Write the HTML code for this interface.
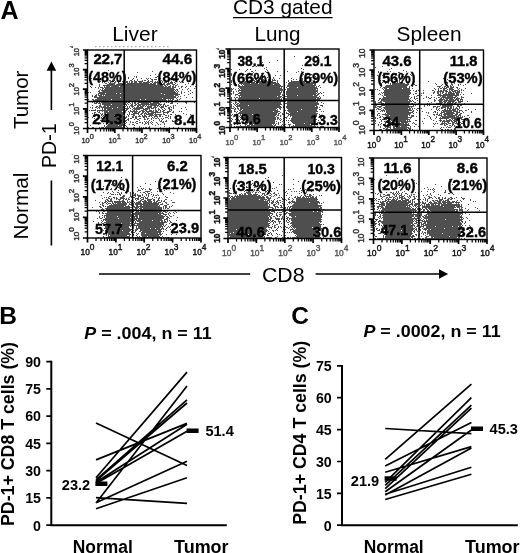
<!DOCTYPE html>
<html lang="en"><head><meta charset="utf-8"><title>Figure</title>
<style>html,body{margin:0;padding:0;background:#fff}svg{display:block;font-family:'Liberation Sans', Arial, Helvetica, sans-serif}</style></head><body>
<svg width="520" height="553" viewBox="0 0 520 553">
<rect width="520" height="553" fill="#fff"/>
<defs><filter id="sb" x="-2%" y="-2%" width="104%" height="104%"><feGaussianBlur stdDeviation="0.38"/></filter></defs>
<text x="0.6" y="18.7" font-size="25" font-weight="bold" text-anchor="start" fill="#000" >A</text>
<text x="-0.8" y="323.8" font-size="24.5" font-weight="bold" text-anchor="start" fill="#000" >B</text>
<text x="291.2" y="324" font-size="24.5" font-weight="bold" text-anchor="start" fill="#000" >C</text>
<text x="233" y="13.7" font-size="20.6" font-weight="normal" text-anchor="start" fill="#000" textLength="99.5" lengthAdjust="spacingAndGlyphs">CD3 gated</text>
<path d="M233 17.6H332.5" stroke="#000" stroke-width="1.4"/>
<text x="112.2" y="41.2" font-size="20.6" font-weight="normal" text-anchor="start" fill="#000" textLength="45.5" lengthAdjust="spacingAndGlyphs">Liver</text>
<text x="254.6" y="41.2" font-size="20.6" font-weight="normal" text-anchor="start" fill="#000" textLength="46" lengthAdjust="spacingAndGlyphs">Lung</text>
<text x="396.5" y="41.2" font-size="20.6" font-weight="normal" text-anchor="start" fill="#000" textLength="65" lengthAdjust="spacingAndGlyphs">Spleen</text>
<path d="M95 46.7H171" stroke="#999" stroke-width="1" stroke-dasharray="1.5 2.5"/>
<text transform="translate(27.6 129.1) rotate(-90)" font-size="20.6" textLength="58.5" lengthAdjust="spacingAndGlyphs">Tumor</text>
<text transform="translate(27.6 239.6) rotate(-90)" font-size="20.6" textLength="67" lengthAdjust="spacingAndGlyphs">Normal</text>
<text transform="translate(56 168) rotate(-90)" font-size="20.6" textLength="44.5" lengthAdjust="spacingAndGlyphs">PD-1</text>
<path d="M51.4 110V70M51.4 180.4V245.4" stroke="#000" stroke-width="1.6" fill="none"/>
<path d="M51.4 61.6L56.2 70.8H46.6Z" fill="#000"/>
<path d="M99 274H250.2M315.6 274H440" stroke="#000" stroke-width="1.6" fill="none"/>
<path d="M448.2 274L439 269.2V278.8Z" fill="#000"/>
<text x="262" y="281.6" font-size="20.6" font-weight="normal" text-anchor="start" fill="#000" textLength="42.5" lengthAdjust="spacingAndGlyphs">CD8</text>
<g clip-path="none">
<path transform="translate(0 .5)" d="M102 61h1M111 64h1M108 70h1M152 71h1M106 72h1M137 72h1M176 73h1M123 74h1M155 74h1M159 74h1M150 75h1M175 75h1M178 75h1M124 76h1M134 76h1M136 76h1M157 76h1M98 77h1M106 77h1M128 77h1M136 77h1M155 77h2M91 78h1M96 78h1M100 78h1M125 78h1M128 78h1M133 78h1M141 78h1M146 78h1M148 78h1M150 78h1M160 78h1M170 78h1M173 78h1M100 79h1M132 79h1M137 79h1M147 79h1M151 79h2M154 79h3M164 79h1M176 79h1M98 80h1M109 80h2M114 80h1M117 80h1M130 80h2M134 80h1M137 80h1M142 80h1M144 80h2M148 80h1M152 80h1M161 80h1M165 80h1M173 80h2M100 81h1M102 81h2M110 81h2M113 81h1M115 81h1M117 81h1M122 81h2M126 81h2M129 81h1M131 81h2M134 81h3M138 81h5M147 81h2M150 81h3M155 81h1M157 81h1M159 81h2M162 81h1M168 81h1M171 81h1M179 81h1M188 81h1M98 82h2M102 82h1M104 82h1M108 82h1M110 82h1M114 82h2M118 82h1M123 82h5M129 82h1M131 82h2M134 82h3M139 82h3M143 82h7M152 82h1M154 82h7M162 82h1M164 82h3M168 82h1M170 82h3M174 82h1M180 82h1M182 82h2M105 83h2M109 83h6M118 83h4M123 83h3M127 83h22M150 83h2M153 83h3M157 83h3M161 83h1M163 83h2M167 83h6M175 83h1M188 83h1M99 84h1M107 84h8M116 84h40M157 84h8M166 84h4M172 84h3M177 84h1M185 84h1M192 84h1M99 85h1M103 85h60M164 85h2M167 85h1M170 85h1M173 85h1M175 85h2M90 86h1M99 86h1M104 86h1M106 86h4M111 86h8M120 86h44M165 86h2M168 86h3M172 86h2M175 86h1M178 86h1M181 86h2M186 86h1M190 86h1M195 86h1M91 87h1M95 87h1M98 87h1M100 87h3M104 87h67M172 87h4M181 87h1M185 87h1M98 88h1M102 88h2M105 88h69M179 88h1M188 88h1M194 88h1M100 89h1M102 89h1M104 89h71M176 89h2M182 89h1M187 89h1M99 90h1M101 90h73M175 90h1M177 90h1M190 90h1M98 91h2M102 91h73M176 91h1M178 91h1M181 91h1M188 91h1M88 92h1M90 92h1M99 92h77M177 92h1M181 92h1M184 92h1M192 92h1M98 93h7M106 93h10M117 93h3M121 93h40M162 93h16M181 93h1M190 93h1M96 94h1M98 94h1M100 94h64M165 94h15M188 94h1M92 95h1M95 95h2M98 95h4M103 95h1M105 95h69M175 95h3M184 95h1M92 96h1M94 96h3M99 96h77M178 96h1M180 96h1M94 97h26M121 97h55M177 97h1M186 97h1M192 97h1M97 98h65M163 98h11M176 98h1M180 98h1M88 99h1M92 99h2M95 99h16M112 99h28M141 99h4M146 99h20M168 99h1M170 99h1M172 99h2M177 99h1M179 99h1M93 100h74M168 100h5M175 100h3M96 101h3M100 101h7M108 101h17M126 101h3M130 101h7M139 101h15M155 101h6M162 101h1M165 101h2M168 101h2M179 101h1M192 101h1M92 102h1M94 102h1M96 102h2M99 102h1M101 102h26M128 102h2M132 102h1M134 102h2M138 102h13M153 102h6M160 102h1M166 102h1M168 102h1M171 102h2M185 102h2M194 102h1M94 103h3M98 103h3M102 103h22M125 103h1M127 103h1M130 103h1M132 103h1M134 103h2M137 103h2M141 103h8M150 103h10M164 103h1M170 103h3M177 103h1M186 103h1M100 104h1M102 104h9M112 104h15M128 104h1M131 104h2M135 104h2M138 104h19M158 104h4M163 104h2M92 105h1M99 105h2M104 105h19M124 105h1M126 105h1M130 105h3M134 105h2M137 105h4M142 105h3M146 105h1M148 105h1M150 105h9M160 105h1M163 105h1M165 105h1M167 105h2M173 105h1M175 105h1M96 106h2M99 106h3M103 106h3M107 106h2M110 106h16M127 106h1M129 106h1M131 106h3M137 106h2M140 106h4M145 106h1M147 106h5M154 106h2M157 106h1M159 106h1M161 106h3M165 106h2M170 106h1M173 106h1M90 107h1M92 107h1M95 107h2M98 107h2M101 107h16M118 107h7M127 107h1M129 107h1M132 107h1M134 107h1M136 107h7M147 107h5M153 107h4M160 107h4M168 107h2M171 107h1M173 107h1M185 107h1M92 108h1M97 108h1M99 108h1M102 108h1M104 108h8M113 108h16M130 108h1M133 108h11M145 108h5M151 108h3M155 108h1M158 108h1M161 108h1M164 108h1M168 108h2M173 108h1M181 108h1M95 109h1M102 109h1M104 109h2M107 109h18M126 109h2M132 109h1M134 109h6M143 109h5M149 109h1M155 109h1M158 109h2M162 109h1M165 109h1M169 109h3M186 109h1M89 110h1M91 110h5M97 110h30M130 110h1M133 110h2M136 110h1M141 110h3M145 110h2M149 110h3M153 110h1M155 110h2M158 110h1M160 110h1M163 110h2M169 110h1M171 110h1M97 111h1M99 111h1M102 111h1M104 111h4M109 111h13M123 111h3M128 111h1M130 111h8M139 111h2M142 111h3M146 111h8M155 111h3M160 111h1M162 111h2M167 111h4M173 111h1M179 111h1M181 111h1M94 112h2M98 112h2M104 112h22M129 112h1M132 112h1M134 112h3M138 112h2M142 112h2M145 112h1M147 112h2M151 112h10M163 112h6M172 112h2M92 113h1M94 113h1M100 113h1M102 113h1M104 113h2M107 113h17M129 113h1M133 113h6M141 113h2M144 113h3M148 113h6M155 113h1M163 113h1M167 113h1M183 113h1M101 114h2M104 114h21M127 114h1M129 114h1M131 114h4M138 114h1M140 114h2M144 114h1M146 114h7M154 114h8M163 114h2M170 114h2M175 114h1M186 114h1M190 114h1M93 115h1M99 115h1M101 115h1M103 115h1M105 115h9M115 115h8M128 115h1M133 115h2M139 115h1M142 115h1M144 115h2M149 115h5M155 115h2M159 115h2M165 115h2M168 115h1M99 116h1M102 116h1M105 116h20M126 116h1M128 116h1M132 116h2M135 116h2M138 116h3M142 116h5M148 116h2M151 116h1M154 116h4M159 116h2M162 116h1M168 116h1M170 116h1M88 117h1M92 117h1M101 117h1M103 117h24M132 117h2M135 117h2M143 117h2M146 117h1M152 117h1M154 117h1M157 117h1M165 117h3M170 117h1M175 117h2M94 118h1M101 118h25M128 118h1M130 118h2M135 118h2M139 118h2M144 118h1M147 118h2M151 118h1M153 118h1M155 118h2M158 118h1M161 118h1M163 118h1M168 118h1M170 118h1M104 119h13M118 119h7M127 119h2M134 119h1M137 119h2M144 119h2M147 119h1M151 119h1M159 119h1M162 119h1M177 119h1M94 120h2M100 120h1M104 120h1M106 120h21M128 120h1M139 120h1M149 120h1M153 120h1M159 120h1M161 120h1M166 120h1M172 120h1M180 120h1M103 121h1M106 121h18M125 121h1M130 121h1M136 121h2M144 121h1M146 121h1M148 121h1M151 121h1M160 121h2M163 121h1M165 121h2M172 121h2M177 121h1M189 121h1M106 122h19M126 122h1M130 122h1M132 122h2M135 122h1M139 122h2M142 122h1M145 122h1M147 122h2M150 122h1M152 122h1M156 122h1M162 122h2M179 122h1M94 123h1M96 123h1M100 123h1M103 123h1M109 123h14M125 123h1M136 123h2M142 123h1M145 123h2M148 123h1M151 123h1M157 123h1M164 123h1M179 123h1M98 124h1M106 124h1M108 124h17M129 124h1M132 124h2M144 124h1M148 124h1M152 124h1M158 124h1M160 124h1M164 124h1M90 125h1M104 125h1M107 125h11M119 125h7M134 125h1M155 125h1M104 126h1M106 126h16M123 126h1M126 126h1M139 126h1M149 126h1M164 126h1M88 127h1M92 127h2M99 127h1M101 127h3M105 127h20M127 127h1M133 127h2M139 127h1M141 127h1M143 127h1M145 127h2M148 127h2M160 127h1M169 127h1M173 127h1M178 127h1" stroke="#4f4f4f" stroke-width="1" fill="none" filter="url(#sb)"/>
<rect x="87.5" y="50" width="109.0" height="78.5" fill="none" stroke="#000" stroke-width="1.4"/>
<path d="M124.2 50V128.5M87.5 101.6H196.5" stroke="#000" stroke-width="1.5" fill="none"/>
<path d="M95.7 128.5v2.9M87.5 122.6h-2.9M100.5 128.5v2.9M87.5 119.1h-2.9M103.9 128.5v2.9M87.5 116.7h-2.9M106.5 128.5v2.9M87.5 114.8h-2.9M108.7 128.5v2.9M87.5 113.2h-2.9M110.5 128.5v2.9M87.5 111.9h-2.9M112.1 128.5v2.9M87.5 110.8h-2.9M113.5 128.5v2.9M87.5 109.8h-2.9M123.0 128.5v2.9M87.5 103.0h-2.9M127.8 128.5v2.9M87.5 99.5h-2.9M131.2 128.5v2.9M87.5 97.1h-2.9M133.8 128.5v2.9M87.5 95.2h-2.9M136.0 128.5v2.9M87.5 93.6h-2.9M137.8 128.5v2.9M87.5 92.3h-2.9M139.4 128.5v2.9M87.5 91.2h-2.9M140.8 128.5v2.9M87.5 90.1h-2.9M150.2 128.5v2.9M87.5 83.3h-2.9M155.0 128.5v2.9M87.5 79.9h-2.9M158.4 128.5v2.9M87.5 77.4h-2.9M161.0 128.5v2.9M87.5 75.5h-2.9M163.2 128.5v2.9M87.5 74.0h-2.9M165.0 128.5v2.9M87.5 72.7h-2.9M166.6 128.5v2.9M87.5 71.5h-2.9M168.0 128.5v2.9M87.5 70.5h-2.9M177.5 128.5v2.9M87.5 63.7h-2.9M182.3 128.5v2.9M87.5 60.3h-2.9M185.7 128.5v2.9M87.5 57.8h-2.9M188.3 128.5v2.9M87.5 55.9h-2.9M190.5 128.5v2.9M87.5 54.4h-2.9M192.3 128.5v2.9M87.5 53.0h-2.9M193.9 128.5v2.9M87.5 51.9h-2.9M195.3 128.5v2.9M87.5 50.9h-2.9" stroke="#000" stroke-width="1.25" fill="none"/>
<path d="M87.5 128.5v4.6M87.5 128.5h-4.6M114.8 128.5v4.6M87.5 108.9h-4.6M142.0 128.5v4.6M87.5 89.2h-4.6M169.2 128.5v4.6M87.5 69.6h-4.6M196.5 128.5v4.6M87.5 50h-4.6" stroke="#000" stroke-width="1.7" fill="none"/>
<g font-size="7.4" font-weight="normal" fill="#383838" stroke="#383838" stroke-width="0.4">
<text x="81.4" y="142.5">10<tspan dy="-4">0</tspan></text>
<text x="108.4" y="142.5">10<tspan dy="-4">1</tspan></text>
<text x="135.3" y="142.5">10<tspan dy="-4">2</tspan></text>
<text x="162.2" y="142.5">10<tspan dy="-4">3</tspan></text>
<text x="189.1" y="142.5">10<tspan dy="-4">4</tspan></text>
</g>
<clipPath id="yc11"><rect x="0" y="46.2" width="520" height="200"/></clipPath>
<g font-size="7.5" font-weight="normal" fill="#383838" stroke="#383838" stroke-width="0.45" clip-path="url(#yc11)">
<text transform="translate(79 134.7) rotate(-90)">10<tspan dy="-5">0</tspan></text>
<text transform="translate(79 115.1) rotate(-90)">10<tspan dy="-5">1</tspan></text>
<text transform="translate(79 95.5) rotate(-90)">10<tspan dy="-5">2</tspan></text>
<text transform="translate(79 75.9) rotate(-90)">10<tspan dy="-5">3</tspan></text>
<text transform="translate(79 56.3) rotate(-90)">10<tspan dy="-5">4</tspan></text>
</g>
<text x="93.4" y="64.3" font-size="14" font-weight="bold" stroke="#000" stroke-width=".35" textLength="29.0" lengthAdjust="spacingAndGlyphs">22.7</text>
<text x="88.2" y="82.2" font-size="14" font-weight="bold" stroke="#000" stroke-width=".35" textLength="38.3" lengthAdjust="spacingAndGlyphs">(48%)</text>
<text x="162.5" y="64.4" font-size="14" font-weight="bold" stroke="#000" stroke-width=".35" textLength="29.9" lengthAdjust="spacingAndGlyphs">44.6</text>
<text x="157.6" y="82.2" font-size="14" font-weight="bold" stroke="#000" stroke-width=".35" textLength="38.9" lengthAdjust="spacingAndGlyphs">(84%)</text>
<text x="92.3" y="124.4" font-size="14" font-weight="bold" stroke="#000" stroke-width=".35" textLength="30.1" lengthAdjust="spacingAndGlyphs">24.3</text>
<text x="174.1" y="125.2" font-size="14" font-weight="bold" stroke="#000" stroke-width=".35" textLength="21.0" lengthAdjust="spacingAndGlyphs">8.4</text>
</g>
<g clip-path="none">
<path transform="translate(0 .5)" d="M318 55h1M294 56h1M277 60h1M262 62h1M269 62h1M261 63h1M242 64h1M250 64h1M243 65h1M302 65h1M252 66h2M256 66h1M262 66h1M266 67h1M264 68h1M301 68h1M231 69h1M239 69h1M247 69h1M250 69h1M266 69h1M303 69h1M246 70h1M255 70h1M267 70h1M245 71h1M251 71h2M265 71h1M277 71h1M287 71h1M298 71h1M301 71h1M236 72h1M253 72h1M266 72h1M296 72h1M231 73h1M252 73h1M261 73h2M305 73h1M231 74h1M245 74h1M249 74h2M262 74h1M303 74h1M309 74h1M311 74h1M231 75h1M242 75h1M246 75h1M255 75h1M261 75h2M264 75h1M268 75h1M275 75h1M280 75h1M246 76h1M262 76h2M315 76h1M243 77h1M246 77h1M255 77h1M258 77h1M267 77h1M273 77h1M311 77h1M253 78h1M257 78h1M260 78h1M265 78h1M273 78h1M279 78h1M291 78h1M302 78h1M306 78h2M310 78h1M243 79h1M251 79h1M253 79h1M255 79h2M260 79h2M263 79h1M268 79h2M272 79h1M274 79h1M293 79h1M296 79h1M302 79h1M310 79h1M315 79h2M231 80h1M246 80h2M249 80h6M256 80h4M261 80h6M268 80h3M272 80h4M277 80h1M284 80h1M288 80h1M291 80h1M299 80h2M302 80h1M304 80h1M231 81h1M238 81h1M242 81h1M245 81h7M254 81h19M277 81h1M284 81h1M288 81h1M291 81h10M302 81h6M309 81h2M316 81h1M231 82h1M244 82h11M256 82h20M277 82h1M286 82h1M289 82h16M306 82h4M311 82h3M235 83h1M239 83h11M251 83h7M259 83h20M288 83h28M231 84h1M235 84h2M238 84h1M241 84h1M243 84h30M274 84h6M284 84h1M288 84h25M314 84h2M236 85h1M238 85h2M242 85h1M244 85h37M284 85h1M287 85h14M302 85h14M319 85h1M238 86h45M287 86h28M316 86h1M318 86h1M239 87h41M281 87h1M286 87h1M289 87h8M298 87h19M320 87h1M231 88h1M233 88h1M238 88h1M240 88h42M287 88h31M231 89h2M235 89h1M239 89h1M241 89h42M285 89h1M287 89h29M317 89h1M231 90h1M238 90h45M284 90h1M287 90h31M231 91h1M233 91h1M236 91h1M238 91h1M241 91h39M281 91h1M283 91h1M286 91h32M233 92h1M239 92h43M283 92h1M286 92h30M317 92h1M320 92h1M323 92h1M231 93h1M233 93h1M238 93h43M286 93h31M318 93h2M321 93h1M231 94h1M235 94h3M240 94h41M282 94h1M284 94h1M286 94h30M317 94h2M235 95h1M238 95h42M282 95h2M287 95h10M298 95h15M314 95h4M323 95h1M239 96h1M241 96h36M278 96h4M284 96h33M319 96h1M231 97h1M234 97h1M236 97h2M239 97h42M282 97h3M287 97h32M320 97h1M231 98h1M235 98h1M238 98h21M260 98h20M281 98h1M283 98h33M317 98h4M231 99h1M235 99h1M238 99h44M283 99h1M285 99h35M231 100h1M237 100h45M285 100h32M319 100h2M235 101h1M238 101h48M287 101h29M317 101h1M231 102h1M235 102h2M239 102h42M284 102h1M287 102h31M321 102h1M233 103h1M235 103h1M237 103h2M240 103h41M285 103h34M323 103h1M231 104h1M234 104h1M236 104h2M239 104h43M287 104h32M231 105h1M235 105h1M237 105h11M249 105h31M287 105h30M320 105h3M231 106h1M233 106h1M236 106h45M283 106h1M286 106h29M316 106h2M322 106h1M231 107h1M234 107h1M237 107h1M240 107h42M283 107h1M286 107h32M319 107h1M231 108h3M235 108h1M237 108h2M240 108h37M279 108h2M287 108h31M234 109h2M238 109h1M240 109h2M243 109h33M277 109h1M280 109h1M288 109h13M302 109h15M319 109h2M231 110h1M234 110h1M239 110h2M242 110h36M285 110h1M287 110h30M231 111h1M234 111h2M237 111h1M240 111h33M274 111h6M288 111h9M298 111h20M321 111h1M323 111h1M231 112h1M236 112h1M239 112h39M280 112h1M286 112h1M289 112h27M238 113h39M278 113h2M282 113h1M284 113h1M286 113h3M290 113h28M232 114h1M234 114h1M236 114h2M240 114h1M242 114h10M253 114h24M278 114h1M282 114h3M288 114h29M319 114h1M231 115h1M237 115h1M240 115h1M242 115h34M277 115h2M280 115h1M284 115h1M288 115h1M290 115h25M316 115h1M237 116h1M239 116h1M241 116h1M244 116h31M276 116h1M280 116h1M287 116h1M290 116h1M292 116h22M315 116h2M319 116h1M323 116h1M240 117h1M242 117h34M277 117h2M285 117h2M292 117h24M321 117h1M231 118h1M237 118h1M241 118h35M277 118h2M280 118h1M283 118h1M286 118h1M289 118h1M291 118h23M320 118h1M232 119h1M235 119h1M238 119h1M240 119h1M242 119h2M245 119h31M277 119h1M279 119h1M281 119h1M291 119h23M316 119h1M231 120h1M238 120h2M243 120h1M246 120h29M280 120h1M283 120h1M286 120h1M288 120h1M290 120h25M318 120h1M231 121h1M236 121h2M239 121h1M245 121h2M248 121h27M276 121h1M282 121h1M291 121h24M243 122h1M245 122h30M278 122h1M280 122h1M284 122h1M288 122h1M292 122h22M317 122h1M235 123h1M240 123h1M242 123h2M247 123h1M249 123h26M276 123h1M278 123h1M293 123h11M305 123h9M316 123h2M231 124h1M234 124h1M237 124h1M245 124h2M249 124h4M254 124h18M273 124h1M275 124h1M278 124h1M282 124h1M284 124h2M288 124h3M295 124h15M311 124h3M315 124h1M321 124h1M231 125h1M240 125h1M245 125h1M247 125h3M251 125h22M274 125h2M281 125h1M283 125h1M289 125h1M293 125h1M295 125h17M314 125h1M231 126h1M234 126h1M236 126h39M276 126h7M284 126h2M289 126h1M291 126h25M317 126h1M320 126h4" stroke="#4f4f4f" stroke-width="1" fill="none" filter="url(#sb)"/>
<rect x="230" y="49" width="109" height="78.5" fill="none" stroke="#000" stroke-width="1.4"/>
<path d="M284.2 49V127.5M230 100.5H339" stroke="#000" stroke-width="1.5" fill="none"/>
<path d="M238.2 127.5v2.9M230 121.6h-2.9M243.0 127.5v2.9M230 118.1h-2.9M246.4 127.5v2.9M230 115.7h-2.9M249.0 127.5v2.9M230 113.8h-2.9M251.2 127.5v2.9M230 112.2h-2.9M253.0 127.5v2.9M230 110.9h-2.9M254.6 127.5v2.9M230 109.8h-2.9M256.0 127.5v2.9M230 108.8h-2.9M265.5 127.5v2.9M230 102.0h-2.9M270.3 127.5v2.9M230 98.5h-2.9M273.7 127.5v2.9M230 96.1h-2.9M276.3 127.5v2.9M230 94.2h-2.9M278.5 127.5v2.9M230 92.6h-2.9M280.3 127.5v2.9M230 91.3h-2.9M281.9 127.5v2.9M230 90.2h-2.9M283.3 127.5v2.9M230 89.1h-2.9M292.7 127.5v2.9M230 82.3h-2.9M297.5 127.5v2.9M230 78.9h-2.9M300.9 127.5v2.9M230 76.4h-2.9M303.5 127.5v2.9M230 74.5h-2.9M305.7 127.5v2.9M230 73.0h-2.9M307.5 127.5v2.9M230 71.7h-2.9M309.1 127.5v2.9M230 70.5h-2.9M310.5 127.5v2.9M230 69.5h-2.9M320.0 127.5v2.9M230 62.7h-2.9M324.8 127.5v2.9M230 59.3h-2.9M328.2 127.5v2.9M230 56.8h-2.9M330.8 127.5v2.9M230 54.9h-2.9M333.0 127.5v2.9M230 53.4h-2.9M334.8 127.5v2.9M230 52.0h-2.9M336.4 127.5v2.9M230 50.9h-2.9M337.8 127.5v2.9M230 49.9h-2.9" stroke="#000" stroke-width="1.25" fill="none"/>
<path d="M230.0 127.5v4.6M230 127.5h-4.6M257.2 127.5v4.6M230 107.9h-4.6M284.5 127.5v4.6M230 88.2h-4.6M311.8 127.5v4.6M230 68.6h-4.6M339 127.5v4.6M230 49h-4.6" stroke="#000" stroke-width="1.7" fill="none"/>
<g font-size="7.6" font-weight="normal" fill="#555" stroke="#555" stroke-width="0.4">
<text x="225.5" y="144.5">10<tspan dy="-5">0</tspan></text>
<text x="252.6" y="144.5">10<tspan dy="-5">1</tspan></text>
<text x="279.7" y="144.5">10<tspan dy="-5">2</tspan></text>
<text x="306.7" y="144.5">10<tspan dy="-5">3</tspan></text>
<text x="333.8" y="144.5">10<tspan dy="-5">4</tspan></text>
</g>
<clipPath id="yc22"><rect x="0" y="48.5" width="520" height="200"/></clipPath>
<g font-size="8.4" font-weight="bold" fill="#111" stroke="#111" stroke-width="0.45" clip-path="url(#yc22)">
<text transform="translate(224.5 134.8) rotate(-90)">10<tspan dy="-5">0</tspan></text>
<text transform="translate(224.5 115.8) rotate(-90)">10<tspan dy="-5">1</tspan></text>
<text transform="translate(224.5 96.8) rotate(-90)">10<tspan dy="-5">2</tspan></text>
<text transform="translate(224.5 77.8) rotate(-90)">10<tspan dy="-5">3</tspan></text>
<text transform="translate(224.5 58.8) rotate(-90)">10<tspan dy="-5">4</tspan></text>
</g>
<text x="237.4" y="65.5" font-size="14" font-weight="bold" stroke="#000" stroke-width=".35" textLength="26.7" lengthAdjust="spacingAndGlyphs">38.1</text>
<text x="232.0" y="83" font-size="14" font-weight="bold" stroke="#000" stroke-width=".35" textLength="39.6" lengthAdjust="spacingAndGlyphs">(66%)</text>
<text x="304.3" y="65.5" font-size="14" font-weight="bold" stroke="#000" stroke-width=".35" textLength="27.2" lengthAdjust="spacingAndGlyphs">29.1</text>
<text x="298.9" y="83" font-size="14" font-weight="bold" stroke="#000" stroke-width=".35" textLength="39.3" lengthAdjust="spacingAndGlyphs">(69%)</text>
<text x="232.7" y="124.3" font-size="14" font-weight="bold" stroke="#000" stroke-width=".35" textLength="28.1" lengthAdjust="spacingAndGlyphs">19.6</text>
<text x="310.5" y="125.3" font-size="14" font-weight="bold" stroke="#000" stroke-width=".35" textLength="27.3" lengthAdjust="spacingAndGlyphs">13.3</text>
</g>
<g clip-path="none">
<path transform="translate(0 .5)" d="M388 61h1M405 63h1M382 66h1M375 67h1M391 68h1M389 69h1M403 70h1M378 71h1M387 71h1M390 71h1M406 71h1M378 72h1M398 72h2M380 73h1M396 73h1M387 74h1M403 74h1M410 74h1M413 74h1M377 75h1M382 75h1M392 75h1M411 75h1M387 76h1M401 76h1M403 76h1M391 77h1M394 77h2M459 77h1M391 78h1M443 78h1M391 79h1M394 79h2M399 79h2M409 79h1M447 79h1M380 80h1M388 80h1M390 80h1M397 80h1M399 80h1M406 80h1M455 80h1M386 81h1M391 81h1M394 81h2M397 81h1M399 81h1M409 81h1M414 81h1M428 81h1M453 81h1M382 82h1M385 82h1M388 82h1M392 82h3M397 82h1M399 82h2M402 82h1M444 82h4M452 82h1M454 82h1M381 83h1M385 83h1M388 83h1M390 83h1M392 83h13M407 83h2M435 83h1M447 83h1M451 83h1M454 83h1M380 84h2M390 84h1M392 84h17M414 84h1M436 84h1M442 84h1M446 84h1M451 84h2M458 84h1M460 84h1M465 84h1M386 85h22M415 85h2M441 85h1M446 85h1M450 85h1M452 85h1M458 85h1M463 85h1M381 86h1M385 86h22M409 86h1M412 86h1M437 86h4M444 86h2M447 86h2M450 86h2M453 86h1M380 87h1M383 87h24M409 87h1M439 87h1M442 87h1M444 87h1M446 87h3M450 87h4M456 87h2M382 88h1M384 88h3M389 88h13M403 88h7M412 88h1M434 88h1M438 88h1M440 88h2M443 88h4M449 88h4M457 88h1M459 88h1M465 88h1M375 89h1M377 89h1M383 89h1M385 89h25M435 89h1M438 89h1M443 89h2M447 89h1M449 89h5M458 89h1M461 89h1M379 90h1M384 90h27M413 90h1M416 90h1M418 90h1M423 90h1M432 90h2M438 90h1M440 90h2M443 90h4M449 90h1M451 90h2M454 90h4M459 90h1M461 90h1M463 90h1M384 91h26M415 91h2M434 91h1M437 91h7M445 91h3M449 91h2M452 91h4M457 91h3M381 92h1M383 92h28M423 92h1M433 92h2M437 92h2M440 92h1M442 92h2M446 92h1M448 92h4M453 92h1M455 92h5M461 92h1M379 93h1M382 93h1M384 93h27M415 93h2M421 93h1M423 93h1M433 93h1M437 93h2M440 93h1M442 93h1M445 93h2M448 93h7M456 93h3M471 93h1M378 94h1M380 94h1M384 94h26M413 94h1M438 94h3M443 94h12M456 94h3M460 94h1M463 94h1M382 95h1M384 95h25M417 95h2M421 95h1M431 95h1M437 95h22M383 96h1M386 96h24M414 96h1M416 96h1M426 96h1M440 96h1M442 96h4M447 96h6M455 96h2M461 96h1M383 97h26M411 97h1M414 97h1M426 97h1M428 97h1M431 97h1M434 97h1M438 97h2M441 97h15M457 97h1M461 97h3M379 98h2M382 98h27M410 98h1M414 98h1M416 98h2M423 98h1M429 98h2M436 98h1M440 98h2M443 98h1M445 98h8M454 98h1M456 98h4M461 98h1M379 99h1M381 99h29M415 99h1M434 99h1M439 99h6M446 99h2M449 99h5M455 99h4M460 99h3M378 100h1M381 100h27M409 100h2M412 100h1M417 100h1M419 100h1M434 100h2M438 100h5M444 100h12M457 100h2M460 100h1M462 100h1M375 101h1M380 101h2M383 101h29M413 101h1M428 101h1M434 101h1M439 101h3M443 101h4M448 101h7M458 101h5M467 101h1M375 102h1M378 102h4M385 102h25M414 102h2M431 102h1M439 102h4M444 102h2M447 102h4M452 102h2M455 102h2M458 102h3M375 103h1M381 103h3M385 103h25M411 103h2M418 103h1M427 103h1M429 103h1M436 103h6M444 103h1M447 103h6M454 103h2M464 103h1M375 104h1M377 104h1M383 104h28M414 104h1M429 104h1M439 104h1M441 104h6M448 104h3M452 104h1M457 104h1M460 104h1M463 104h1M375 105h2M381 105h28M413 105h1M415 105h1M424 105h1M427 105h1M429 105h1M440 105h1M442 105h11M457 105h2M460 105h2M375 106h1M377 106h5M385 106h29M424 106h1M433 106h3M437 106h3M442 106h10M453 106h1M457 106h3M375 107h2M379 107h2M383 107h27M411 107h1M433 107h1M436 107h2M441 107h5M447 107h2M450 107h2M453 107h1M456 107h1M459 107h1M462 107h1M377 108h2M381 108h1M384 108h24M409 108h2M412 108h1M414 108h1M417 108h2M421 108h1M436 108h1M439 108h1M441 108h2M445 108h1M447 108h5M453 108h1M455 108h3M459 108h1M376 109h1M378 109h3M383 109h1M385 109h26M412 109h1M416 109h1M419 109h1M431 109h1M436 109h1M438 109h1M444 109h2M447 109h1M449 109h2M452 109h4M457 109h2M468 109h1M475 109h1M381 110h4M386 110h26M413 110h1M417 110h1M437 110h1M439 110h1M442 110h14M457 110h1M459 110h3M465 110h2M377 111h1M380 111h1M382 111h1M384 111h1M386 111h23M412 111h2M422 111h1M434 111h2M441 111h1M443 111h9M453 111h5M459 111h1M462 111h1M471 111h1M386 112h27M416 112h1M426 112h1M428 112h1M433 112h1M435 112h1M437 112h1M441 112h4M446 112h8M456 112h4M463 112h1M471 112h1M378 113h2M385 113h1M387 113h24M413 113h1M428 113h1M437 113h1M440 113h2M444 113h11M456 113h2M460 113h2M377 114h1M382 114h28M433 114h2M436 114h2M439 114h1M441 114h1M443 114h10M455 114h3M459 114h2M377 115h1M379 115h1M385 115h4M390 115h18M409 115h1M411 115h3M427 115h1M434 115h1M438 115h4M444 115h2M447 115h10M458 115h3M467 115h2M380 116h1M382 116h1M386 116h22M411 116h3M416 116h1M429 116h1M436 116h1M441 116h14M456 116h3M460 116h1M462 116h1M464 116h1M375 117h1M379 117h2M383 117h1M385 117h27M419 117h1M430 117h1M436 117h1M440 117h1M442 117h21M469 117h1M375 118h1M377 118h1M384 118h1M388 118h20M410 118h1M424 118h1M430 118h1M435 118h1M439 118h10M451 118h11M380 119h1M382 119h1M386 119h1M389 119h21M431 119h1M440 119h1M446 119h1M449 119h2M452 119h1M454 119h2M457 119h1M461 119h3M467 119h1M375 120h1M381 120h1M387 120h2M391 120h15M407 120h1M409 120h1M415 120h2M433 120h1M439 120h3M443 120h2M446 120h6M453 120h2M457 120h2M466 120h1M375 121h1M381 121h1M384 121h1M386 121h5M392 121h19M422 121h1M436 121h1M440 121h1M442 121h8M451 121h2M454 121h3M462 121h1M379 122h1M385 122h1M387 122h1M389 122h6M396 122h4M401 122h7M413 122h1M442 122h1M444 122h1M447 122h2M452 122h3M456 122h1M460 122h1M375 123h1M381 123h1M385 123h1M388 123h4M393 123h11M405 123h2M408 123h1M412 123h1M414 123h1M423 123h1M433 123h1M435 123h1M437 123h1M441 123h6M448 123h3M452 123h2M455 123h3M459 123h1M461 123h2M378 124h1M380 124h1M383 124h1M387 124h5M393 124h16M415 124h2M434 124h1M440 124h3M444 124h1M446 124h2M452 124h2M457 124h1M460 124h1M378 125h1M387 125h4M392 125h18M444 125h2M449 125h2M452 125h1M454 125h1M458 125h1M460 125h1M380 126h1M387 126h1M390 126h1M393 126h3M397 126h3M401 126h6M410 126h1M414 126h1M418 126h1M433 126h1M447 126h1M451 126h1M454 126h1M456 126h2M380 127h1M385 127h1M387 127h4M393 127h2M396 127h13M410 127h1M441 127h1M443 127h1M446 127h1M448 127h3M455 127h3M461 127h1M383 128h2M386 128h2M390 128h1M393 128h14M408 128h3M440 128h1M454 128h2M379 129h3M385 129h23M409 129h2M412 129h1M441 129h2M445 129h1M447 129h2M451 129h1M454 129h2" stroke="#4f4f4f" stroke-width="1" fill="none" filter="url(#sb)"/>
<rect x="374" y="50" width="109.5" height="80.5" fill="none" stroke="#000" stroke-width="1.4"/>
<path d="M419.7 50V130.5M374 104.2H483.5" stroke="#000" stroke-width="1.5" fill="none"/>
<path d="M382.2 130.5v2.9M374 124.4h-2.9M387.1 130.5v2.9M374 120.9h-2.9M390.5 130.5v2.9M374 118.4h-2.9M393.1 130.5v2.9M374 116.4h-2.9M395.3 130.5v2.9M374 114.8h-2.9M397.1 130.5v2.9M374 113.5h-2.9M398.7 130.5v2.9M374 112.3h-2.9M400.1 130.5v2.9M374 111.3h-2.9M409.6 130.5v2.9M374 104.3h-2.9M414.4 130.5v2.9M374 100.8h-2.9M417.9 130.5v2.9M374 98.3h-2.9M420.5 130.5v2.9M374 96.3h-2.9M422.7 130.5v2.9M374 94.7h-2.9M424.5 130.5v2.9M374 93.4h-2.9M426.1 130.5v2.9M374 92.2h-2.9M427.5 130.5v2.9M374 91.2h-2.9M437.0 130.5v2.9M374 84.2h-2.9M441.8 130.5v2.9M374 80.6h-2.9M445.2 130.5v2.9M374 78.1h-2.9M447.9 130.5v2.9M374 76.2h-2.9M450.1 130.5v2.9M374 74.6h-2.9M451.9 130.5v2.9M374 73.2h-2.9M453.5 130.5v2.9M374 72.1h-2.9M454.9 130.5v2.9M374 71.0h-2.9M464.4 130.5v2.9M374 64.1h-2.9M469.2 130.5v2.9M374 60.5h-2.9M472.6 130.5v2.9M374 58.0h-2.9M475.3 130.5v2.9M374 56.1h-2.9M477.4 130.5v2.9M374 54.5h-2.9M479.3 130.5v2.9M374 53.1h-2.9M480.8 130.5v2.9M374 52.0h-2.9M482.2 130.5v2.9M374 50.9h-2.9" stroke="#000" stroke-width="1.25" fill="none"/>
<path d="M374.0 130.5v4.6M374 130.5h-4.6M401.4 130.5v4.6M374 110.4h-4.6M428.8 130.5v4.6M374 90.2h-4.6M456.1 130.5v4.6M374 70.1h-4.6M483.5 130.5v4.6M374 50h-4.6" stroke="#000" stroke-width="1.7" fill="none"/>
<g font-size="8.2" font-weight="normal" fill="#111" stroke="#111" stroke-width="0.4">
<text x="367.2" y="147.8">10<tspan dy="-6">0</tspan></text>
<text x="394.2" y="147.8">10<tspan dy="-6">1</tspan></text>
<text x="421.3" y="147.8">10<tspan dy="-6">2</tspan></text>
<text x="448.4" y="147.8">10<tspan dy="-6">3</tspan></text>
<text x="475.5" y="147.8">10<tspan dy="-6">4</tspan></text>
</g>
<clipPath id="yc33"><rect x="0" y="48.8" width="520" height="200"/></clipPath>
<g font-size="8.6" font-weight="normal" fill="#333" stroke="#333" stroke-width="0.45" clip-path="url(#yc33)">
<text transform="translate(364.5 134.8) rotate(-90)">10<tspan dy="-5.9">0</tspan></text>
<text transform="translate(364.5 115.6) rotate(-90)">10<tspan dy="-5.9">1</tspan></text>
<text transform="translate(364.5 96.4) rotate(-90)">10<tspan dy="-5.9">2</tspan></text>
<text transform="translate(364.5 77.2) rotate(-90)">10<tspan dy="-5.9">3</tspan></text>
<text transform="translate(364.5 58.0) rotate(-90)">10<tspan dy="-5.9">4</tspan></text>
</g>
<text x="382.4" y="65.5" font-size="14" font-weight="bold" stroke="#000" stroke-width=".35" textLength="29.2" lengthAdjust="spacingAndGlyphs">43.6</text>
<text x="377.4" y="82.6" font-size="14" font-weight="bold" stroke="#000" stroke-width=".35" textLength="38.2" lengthAdjust="spacingAndGlyphs">(56%)</text>
<text x="449.7" y="65.5" font-size="14" font-weight="bold" stroke="#000" stroke-width=".35" textLength="27.8" lengthAdjust="spacingAndGlyphs">11.8</text>
<text x="443.3" y="82.8" font-size="14" font-weight="bold" stroke="#000" stroke-width=".35" textLength="39.3" lengthAdjust="spacingAndGlyphs">(53%)</text>
<text x="382.8" y="127.4" font-size="14" font-weight="bold" stroke="#000" stroke-width=".35" textLength="16.6" lengthAdjust="spacingAndGlyphs">34</text>
<text x="454.8" y="128.4" font-size="14" font-weight="bold" stroke="#000" stroke-width=".35" textLength="27.0" lengthAdjust="spacingAndGlyphs">10.6</text>
</g>
<g clip-path="none">
<path transform="translate(0 .5)" d="M121 177h1M111 180h1M116 180h1M155 181h1M160 182h1M114 183h1M145 183h1M111 184h1M150 184h1M109 185h1M124 185h1M103 186h1M140 186h1M160 186h1M118 187h1M121 187h1M132 187h1M137 187h1M103 188h1M111 188h1M116 188h1M123 188h1M141 188h1M143 188h1M149 188h1M157 188h1M110 189h2M123 189h1M138 189h1M142 189h1M145 189h1M149 189h3M161 189h1M166 189h1M173 189h1M118 190h1M123 190h2M138 190h3M150 190h1M164 190h1M112 191h1M128 191h1M137 191h1M145 191h5M157 191h1M159 191h1M103 192h1M108 192h1M113 192h1M117 192h2M121 192h1M125 192h1M130 192h1M133 192h1M140 192h1M143 192h2M147 192h1M151 192h1M170 192h1M107 193h1M110 193h1M119 193h1M121 193h1M126 193h1M130 193h1M133 193h1M135 193h1M145 193h1M148 193h2M162 193h1M173 193h1M111 194h3M115 194h1M117 194h1M119 194h2M130 194h1M134 194h2M137 194h1M142 194h1M146 194h1M148 194h1M151 194h1M153 194h1M157 194h1M163 194h1M101 195h1M120 195h1M123 195h2M130 195h1M132 195h4M137 195h4M142 195h1M146 195h1M148 195h1M153 195h1M155 195h2M158 195h1M109 196h2M122 196h3M130 196h2M135 196h1M138 196h3M144 196h1M148 196h1M152 196h1M165 196h1M104 197h1M106 197h1M108 197h1M113 197h2M116 197h1M120 197h4M129 197h1M131 197h1M133 197h2M138 197h1M141 197h3M145 197h1M147 197h1M154 197h1M156 197h1M159 197h1M166 197h2M102 198h1M108 198h2M111 198h1M114 198h1M116 198h2M120 198h5M126 198h1M128 198h1M135 198h4M140 198h1M143 198h1M145 198h3M152 198h1M158 198h2M106 199h2M110 199h2M116 199h1M118 199h3M123 199h1M125 199h2M128 199h2M135 199h1M137 199h2M141 199h3M147 199h5M153 199h2M158 199h1M165 199h2M95 200h1M105 200h1M107 200h2M110 200h2M119 200h1M122 200h2M127 200h1M131 200h2M136 200h1M140 200h2M144 200h2M147 200h4M153 200h2M157 200h3M161 200h1M164 200h1M171 200h1M105 201h2M108 201h5M114 201h11M127 201h1M129 201h1M131 201h3M138 201h3M142 201h5M148 201h4M154 201h1M156 201h2M161 201h1M163 201h2M99 202h1M102 202h1M104 202h2M107 202h1M112 202h1M114 202h7M122 202h4M127 202h2M130 202h2M134 202h1M136 202h5M143 202h9M153 202h4M158 202h3M165 202h2M172 202h3M102 203h2M106 203h1M108 203h3M112 203h2M115 203h1M117 203h10M129 203h1M131 203h3M135 203h7M143 203h16M162 203h1M166 203h1M100 204h1M102 204h1M107 204h1M111 204h1M113 204h14M129 204h5M135 204h24M160 204h3M167 204h2M102 205h2M109 205h17M128 205h1M131 205h3M136 205h2M140 205h2M143 205h15M159 205h1M164 205h3M172 205h1M99 206h2M103 206h1M105 206h1M107 206h17M125 206h5M132 206h3M136 206h24M163 206h1M165 206h2M169 206h1M171 206h1M92 207h1M100 207h2M107 207h26M134 207h5M140 207h22M163 207h1M165 207h2M169 207h1M102 208h1M105 208h25M135 208h3M139 208h3M143 208h19M163 208h1M165 208h1M167 208h2M101 209h3M106 209h31M138 209h1M140 209h22M104 210h23M128 210h6M136 210h1M138 210h19M158 210h4M163 210h1M165 210h1M167 210h1M181 210h1M96 211h1M98 211h1M103 211h2M107 211h27M136 211h3M140 211h22M163 211h3M167 211h1M175 211h1M99 212h1M102 212h1M107 212h26M135 212h26M162 212h1M165 212h2M169 212h1M173 212h1M176 212h1M99 213h1M102 213h2M105 213h26M132 213h26M159 213h5M168 213h1M170 213h1M174 213h1M106 214h55M163 214h4M168 214h1M102 215h1M104 215h30M135 215h3M139 215h24M165 215h1M169 215h1M173 215h1M99 216h1M104 216h1M106 216h11M118 216h20M139 216h26M166 216h2M170 216h2M99 217h1M102 217h1M104 217h1M106 217h24M131 217h4M136 217h2M139 217h25M167 217h2M177 217h1M97 218h1M100 218h2M105 218h13M119 218h45M166 218h2M169 218h1M103 219h34M138 219h24M164 219h4M101 220h1M103 220h1M105 220h30M136 220h5M142 220h10M153 220h10M164 220h1M167 220h1M169 220h1M176 220h1M93 221h1M102 221h1M106 221h26M133 221h1M135 221h1M137 221h23M161 221h2M164 221h2M167 221h1M170 221h1M98 222h1M101 222h1M104 222h26M131 222h3M135 222h1M139 222h28M170 222h2M98 223h1M102 223h2M106 223h15M122 223h11M134 223h30M169 223h1M101 224h1M103 224h5M109 224h21M131 224h1M133 224h2M137 224h27M166 224h1M173 224h1M175 224h1M179 224h1M103 225h2M107 225h25M133 225h29M163 225h1M165 225h1M105 226h24M130 226h1M133 226h1M136 226h1M138 226h25M164 226h1M168 226h1M170 226h1M100 227h1M105 227h2M108 227h21M133 227h1M136 227h1M138 227h23M162 227h1M167 227h1M169 227h1M98 228h2M104 228h16M121 228h9M132 228h2M136 228h14M151 228h4M156 228h4M161 228h3M166 228h1M97 229h1M108 229h24M135 229h3M140 229h22M163 229h1M165 229h1M170 229h1M103 230h1M105 230h2M108 230h14M123 230h8M132 230h2M135 230h2M140 230h17M158 230h3M166 230h1M177 230h1M181 230h1M107 231h23M131 231h1M135 231h1M139 231h2M142 231h20M163 231h1M96 232h1M107 232h22M131 232h4M141 232h20M103 233h2M108 233h22M132 233h1M136 233h1M138 233h1M141 233h4M146 233h12M159 233h2M162 233h1M172 233h1M181 233h1M103 234h2M106 234h1M108 234h23M133 234h1M137 234h1M141 234h21M166 234h1M171 234h1M176 234h1M106 235h1M108 235h1M110 235h17M129 235h1M133 235h1M136 235h1M141 235h18M160 235h1M103 236h1M108 236h22M137 236h1M139 236h1M142 236h5M148 236h12M162 236h1M98 237h1M103 237h2M106 237h28M135 237h27M163 237h1M165 237h1M167 237h2" stroke="#4f4f4f" stroke-width="1" fill="none" filter="url(#sb)"/>
<rect x="87.5" y="155.5" width="113.5" height="82.5" fill="none" stroke="#000" stroke-width="1.4"/>
<path d="M132.6 155.5V238M87.5 210.5H201" stroke="#000" stroke-width="1.5" fill="none"/>
<path d="M96.0 238v2.9M87.5 231.8h-2.9M101.0 238v2.9M87.5 228.2h-2.9M104.6 238v2.9M87.5 225.6h-2.9M107.3 238v2.9M87.5 223.6h-2.9M109.6 238v2.9M87.5 222.0h-2.9M111.5 238v2.9M87.5 220.6h-2.9M113.1 238v2.9M87.5 219.4h-2.9M114.6 238v2.9M87.5 218.3h-2.9M124.4 238v2.9M87.5 211.2h-2.9M129.4 238v2.9M87.5 207.5h-2.9M133.0 238v2.9M87.5 205.0h-2.9M135.7 238v2.9M87.5 203.0h-2.9M138.0 238v2.9M87.5 201.3h-2.9M139.9 238v2.9M87.5 199.9h-2.9M141.5 238v2.9M87.5 198.7h-2.9M143.0 238v2.9M87.5 197.7h-2.9M152.8 238v2.9M87.5 190.5h-2.9M157.8 238v2.9M87.5 186.9h-2.9M161.3 238v2.9M87.5 184.3h-2.9M164.1 238v2.9M87.5 182.3h-2.9M166.3 238v2.9M87.5 180.7h-2.9M168.2 238v2.9M87.5 179.3h-2.9M169.9 238v2.9M87.5 178.1h-2.9M171.3 238v2.9M87.5 177.1h-2.9M181.2 238v2.9M87.5 169.9h-2.9M186.2 238v2.9M87.5 166.3h-2.9M189.7 238v2.9M87.5 163.7h-2.9M192.5 238v2.9M87.5 161.7h-2.9M194.7 238v2.9M87.5 160.1h-2.9M196.6 238v2.9M87.5 158.7h-2.9M198.3 238v2.9M87.5 157.5h-2.9M199.7 238v2.9M87.5 156.4h-2.9" stroke="#000" stroke-width="1.25" fill="none"/>
<path d="M87.5 238v4.6M87.5 238.0h-4.6M115.9 238v4.6M87.5 217.4h-4.6M144.2 238v4.6M87.5 196.8h-4.6M172.6 238v4.6M87.5 176.1h-4.6M201 238v4.6M87.5 155.5h-4.6" stroke="#000" stroke-width="1.7" fill="none"/>
<g font-size="8.4" font-weight="normal" fill="#111" stroke="#111" stroke-width="0.4">
<text x="80.5" y="255.2">10<tspan dy="-5.4">0</tspan></text>
<text x="108.5" y="255.2">10<tspan dy="-5.4">1</tspan></text>
<text x="136.5" y="255.2">10<tspan dy="-5.4">2</tspan></text>
<text x="164.5" y="255.2">10<tspan dy="-5.4">3</tspan></text>
<text x="192.5" y="255.2">10<tspan dy="-5.4">4</tspan></text>
</g>
<clipPath id="yc44"><rect x="0" y="154.5" width="520" height="200"/></clipPath>
<g font-size="8.1" font-weight="normal" fill="#383838" stroke="#383838" stroke-width="0.45" clip-path="url(#yc44)">
<text transform="translate(79 240.7) rotate(-90)">10<tspan dy="-5.4">0</tspan></text>
<text transform="translate(79 221.5) rotate(-90)">10<tspan dy="-5.4">1</tspan></text>
<text transform="translate(79 202.2) rotate(-90)">10<tspan dy="-5.4">2</tspan></text>
<text transform="translate(79 183.0) rotate(-90)">10<tspan dy="-5.4">3</tspan></text>
<text transform="translate(79 163.7) rotate(-90)">10<tspan dy="-5.4">4</tspan></text>
</g>
<text x="96.3" y="171.2" font-size="14" font-weight="bold" stroke="#000" stroke-width=".35" textLength="26.8" lengthAdjust="spacingAndGlyphs">12.1</text>
<text x="90.7" y="189.6" font-size="14" font-weight="bold" stroke="#000" stroke-width=".35" textLength="39.1" lengthAdjust="spacingAndGlyphs">(17%)</text>
<text x="167.0" y="171.2" font-size="14" font-weight="bold" stroke="#000" stroke-width=".35" textLength="20.7" lengthAdjust="spacingAndGlyphs">6.2</text>
<text x="157.6" y="189.4" font-size="14" font-weight="bold" stroke="#000" stroke-width=".35" textLength="38.9" lengthAdjust="spacingAndGlyphs">(21%)</text>
<text x="95.0" y="233.8" font-size="14" font-weight="bold" stroke="#000" stroke-width=".35" textLength="27.8" lengthAdjust="spacingAndGlyphs">57.7</text>
<text x="170.6" y="232.8" font-size="14" font-weight="bold" stroke="#000" stroke-width=".35" textLength="28.5" lengthAdjust="spacingAndGlyphs">23.9</text>
</g>
<g clip-path="none">
<path transform="translate(0 .5)" d="M282 175h1M268 177h1M265 178h1M293 179h1M252 180h1M250 181h1M298 181h1M256 182h1M273 182h1M303 182h1M310 182h1M316 182h1M244 183h1M246 183h1M252 183h1M257 183h1M241 184h1M244 184h1M251 184h1M261 184h1M279 184h1M281 184h1M293 184h1M236 185h1M244 185h1M249 185h1M253 185h1M255 185h1M259 185h1M264 185h1M302 185h1M236 186h1M240 186h1M246 186h1M256 186h2M263 186h1M309 186h1M244 187h1M246 187h2M250 187h1M254 187h1M260 187h1M276 187h1M230 188h1M233 188h2M257 188h1M261 188h1M264 188h1M269 188h1M272 188h1M274 188h1M293 188h1M300 188h1M315 188h1M243 189h1M247 189h1M252 189h1M254 189h1M261 189h2M265 189h1M269 189h1M288 189h1M290 189h1M305 189h1M229 190h1M245 190h1M248 190h1M254 190h1M258 190h1M263 190h1M267 190h1M270 190h1M277 190h1M283 190h1M301 190h1M304 190h1M236 191h1M244 191h1M248 191h2M253 191h1M259 191h1M265 191h2M271 191h1M286 191h1M291 191h1M294 191h1M296 191h1M299 191h1M306 191h1M311 191h1M319 191h1M229 192h1M236 192h1M246 192h5M252 192h1M255 192h2M258 192h1M260 192h1M265 192h1M268 192h1M274 192h1M285 192h1M301 192h1M306 192h1M229 193h3M233 193h1M241 193h1M244 193h2M247 193h4M255 193h1M262 193h3M267 193h1M270 193h1M273 193h2M278 193h1M287 193h1M299 193h1M304 193h1M239 194h2M242 194h1M244 194h2M248 194h4M253 194h5M262 194h1M264 194h1M266 194h2M271 194h1M275 194h2M304 194h1M307 194h1M309 194h2M313 194h1M229 195h1M235 195h1M237 195h1M239 195h18M258 195h2M261 195h1M264 195h2M269 195h2M274 195h1M276 195h1M279 195h1M284 195h1M286 195h1M291 195h1M301 195h1M304 195h2M309 195h3M319 195h1M321 195h1M229 196h1M231 196h2M234 196h27M262 196h2M266 196h2M271 196h1M273 196h1M295 196h1M297 196h1M300 196h1M303 196h1M305 196h6M312 196h2M316 196h1M230 197h1M232 197h3M236 197h29M266 197h3M270 197h1M278 197h2M281 197h1M289 197h1M294 197h2M297 197h4M302 197h3M306 197h1M308 197h1M310 197h4M315 197h2M229 198h1M231 198h34M267 198h4M277 198h1M282 198h1M288 198h1M292 198h1M296 198h21M229 199h1M231 199h28M260 199h7M268 199h2M274 199h1M282 199h4M288 199h2M293 199h1M296 199h22M229 200h35M265 200h1M267 200h3M271 200h1M273 200h1M277 200h1M279 200h2M286 200h1M292 200h1M296 200h21M229 201h39M269 201h1M272 201h2M276 201h2M282 201h1M289 201h1M291 201h4M296 201h23M229 202h39M269 202h1M271 202h3M275 202h1M277 202h2M280 202h1M284 202h1M288 202h3M292 202h17M310 202h10M323 202h1M229 203h40M271 203h2M276 203h1M278 203h1M282 203h1M289 203h1M291 203h1M294 203h24M319 203h1M321 203h1M229 204h39M269 204h1M273 204h3M278 204h1M283 204h2M287 204h1M293 204h25M229 205h39M269 205h1M273 205h2M280 205h2M284 205h1M292 205h30M229 206h41M274 206h4M281 206h1M284 206h1M288 206h1M290 206h31M229 207h44M275 207h1M277 207h2M280 207h3M285 207h1M287 207h1M289 207h2M292 207h27M320 207h2M229 208h40M272 208h2M275 208h1M283 208h1M285 208h1M287 208h1M289 208h1M291 208h31M229 209h39M269 209h4M277 209h2M281 209h2M289 209h1M291 209h29M321 209h1M323 209h1M229 210h42M272 210h5M278 210h2M284 210h2M289 210h32M229 211h41M271 211h4M282 211h2M285 211h1M289 211h24M314 211h3M318 211h5M229 212h42M274 212h1M277 212h1M279 212h3M286 212h2M291 212h30M322 212h1M229 213h44M276 213h1M285 213h2M288 213h33M229 214h41M272 214h1M276 214h1M279 214h3M284 214h2M289 214h32M322 214h1M229 215h41M271 215h1M276 215h2M280 215h1M289 215h33M229 216h39M269 216h2M273 216h2M277 216h1M279 216h1M282 216h1M286 216h1M291 216h4M296 216h26M229 217h40M270 217h2M275 217h1M282 217h1M287 217h2M292 217h30M229 218h40M270 218h2M275 218h5M281 218h2M286 218h2M289 218h32M229 219h42M276 219h4M281 219h1M283 219h2M287 219h1M289 219h1M291 219h31M229 220h40M270 220h1M272 220h2M278 220h1M284 220h1M286 220h1M288 220h1M291 220h30M229 221h41M271 221h2M274 221h2M278 221h3M286 221h1M289 221h1M292 221h30M229 222h39M270 222h1M273 222h1M275 222h1M279 222h1M287 222h2M291 222h28M320 222h1M229 223h41M273 223h1M279 223h1M281 223h1M290 223h30M229 224h40M272 224h1M276 224h2M288 224h1M292 224h30M323 224h1M229 225h41M274 225h2M291 225h30M229 226h40M272 226h1M274 226h1M278 226h1M280 226h1M285 226h1M290 226h1M292 226h29M229 227h38M268 227h4M274 227h2M278 227h1M281 227h1M283 227h1M286 227h2M289 227h1M291 227h1M293 227h19M313 227h8M229 228h37M271 228h1M277 228h1M288 228h1M292 228h1M294 228h1M296 228h26M229 229h7M237 229h30M269 229h1M276 229h1M283 229h1M285 229h1M290 229h4M295 229h26M229 230h39M272 230h2M275 230h1M277 230h1M290 230h1M293 230h28M323 230h1M229 231h29M259 231h8M268 231h1M273 231h1M282 231h1M292 231h27M229 232h4M234 232h32M270 232h1M285 232h1M287 232h1M289 232h1M291 232h1M293 232h26M229 233h1M231 233h35M268 233h2M271 233h1M276 233h1M294 233h24M229 234h19M249 234h17M267 234h1M271 234h1M277 234h1M279 234h1M296 234h22M229 235h35M267 235h2M272 235h1M281 235h1M285 235h1M295 235h1M297 235h20M230 236h33M264 236h1M277 236h1M296 236h18M315 236h5M229 237h36M266 237h6M275 237h2M282 237h1M284 237h2M287 237h2M290 237h1M292 237h29M323 237h1" stroke="#4f4f4f" stroke-width="1" fill="none" filter="url(#sb)"/>
<rect x="228" y="157.5" width="113.5" height="81.0" fill="none" stroke="#000" stroke-width="1.4"/>
<path d="M284.2 157.5V238.5M228 210H341.5" stroke="#000" stroke-width="1.5" fill="none"/>
<path d="M236.5 238.5v2.9M228 232.4h-2.9M241.5 238.5v2.9M228 228.8h-2.9M245.1 238.5v2.9M228 226.3h-2.9M247.8 238.5v2.9M228 224.3h-2.9M250.1 238.5v2.9M228 222.7h-2.9M252.0 238.5v2.9M228 221.4h-2.9M253.6 238.5v2.9M228 220.2h-2.9M255.1 238.5v2.9M228 219.2h-2.9M264.9 238.5v2.9M228 212.2h-2.9M269.9 238.5v2.9M228 208.6h-2.9M273.5 238.5v2.9M228 206.1h-2.9M276.2 238.5v2.9M228 204.1h-2.9M278.5 238.5v2.9M228 202.5h-2.9M280.4 238.5v2.9M228 201.1h-2.9M282.0 238.5v2.9M228 200.0h-2.9M283.5 238.5v2.9M228 198.9h-2.9M293.3 238.5v2.9M228 191.9h-2.9M298.3 238.5v2.9M228 188.3h-2.9M301.8 238.5v2.9M228 185.8h-2.9M304.6 238.5v2.9M228 183.8h-2.9M306.8 238.5v2.9M228 182.2h-2.9M308.7 238.5v2.9M228 180.9h-2.9M310.4 238.5v2.9M228 179.7h-2.9M311.8 238.5v2.9M228 178.7h-2.9M321.7 238.5v2.9M228 171.7h-2.9M326.7 238.5v2.9M228 168.1h-2.9M330.2 238.5v2.9M228 165.6h-2.9M333.0 238.5v2.9M228 163.6h-2.9M335.2 238.5v2.9M228 162.0h-2.9M337.1 238.5v2.9M228 160.6h-2.9M338.8 238.5v2.9M228 159.5h-2.9M340.2 238.5v2.9M228 158.4h-2.9" stroke="#000" stroke-width="1.25" fill="none"/>
<path d="M228.0 238.5v4.6M228 238.5h-4.6M256.4 238.5v4.6M228 218.2h-4.6M284.8 238.5v4.6M228 198.0h-4.6M313.1 238.5v4.6M228 177.8h-4.6M341.5 238.5v4.6M228 157.5h-4.6" stroke="#000" stroke-width="1.7" fill="none"/>
<g font-size="8.4" font-weight="normal" fill="#555" stroke="#555" stroke-width="0.4">
<text x="222.1" y="256">10<tspan dy="-4.8">0</tspan></text>
<text x="250.2" y="256">10<tspan dy="-4.8">1</tspan></text>
<text x="278.3" y="256">10<tspan dy="-4.8">2</tspan></text>
<text x="306.4" y="256">10<tspan dy="-4.8">3</tspan></text>
<text x="334.4" y="256">10<tspan dy="-4.8">4</tspan></text>
</g>
<clipPath id="yc55"><rect x="0" y="156.5" width="520" height="200"/></clipPath>
<g font-size="8.4" font-weight="bold" fill="#111" stroke="#111" stroke-width="0.45" clip-path="url(#yc55)">
<text transform="translate(219.5 242.8) rotate(-90)">10<tspan dy="-4.7">0</tspan></text>
<text transform="translate(219.5 223.8) rotate(-90)">10<tspan dy="-4.7">1</tspan></text>
<text transform="translate(219.5 204.8) rotate(-90)">10<tspan dy="-4.7">2</tspan></text>
<text transform="translate(219.5 185.8) rotate(-90)">10<tspan dy="-4.7">3</tspan></text>
<text transform="translate(219.5 166.8) rotate(-90)">10<tspan dy="-4.7">4</tspan></text>
</g>
<text x="238.0" y="173.5" font-size="14" font-weight="bold" stroke="#000" stroke-width=".35" textLength="28.8" lengthAdjust="spacingAndGlyphs">18.5</text>
<text x="232.0" y="191" font-size="14" font-weight="bold" stroke="#000" stroke-width=".35" textLength="39.6" lengthAdjust="spacingAndGlyphs">(31%)</text>
<text x="307.4" y="173.5" font-size="14" font-weight="bold" stroke="#000" stroke-width=".35" textLength="27.4" lengthAdjust="spacingAndGlyphs">10.3</text>
<text x="301.3" y="191" font-size="14" font-weight="bold" stroke="#000" stroke-width=".35" textLength="39.6" lengthAdjust="spacingAndGlyphs">(25%)</text>
<text x="236.4" y="236.5" font-size="14" font-weight="bold" stroke="#000" stroke-width=".35" textLength="28.4" lengthAdjust="spacingAndGlyphs">40.6</text>
<text x="312.8" y="236.7" font-size="14" font-weight="bold" stroke="#000" stroke-width=".35" textLength="28.5" lengthAdjust="spacingAndGlyphs">30.6</text>
</g>
<g clip-path="none">
<path transform="translate(0 .5)" d="M386 175h1M397 178h1M374 179h1M402 179h1M449 179h1M414 180h1M382 181h1M406 181h1M396 183h1M416 183h1M413 184h1M418 184h1M435 184h1M452 184h1M398 185h1M409 186h1M413 186h2M441 186h1M382 187h1M384 187h1M394 187h1M399 187h1M407 187h1M427 187h1M396 188h1M413 188h1M424 188h1M433 188h1M387 189h1M392 189h1M428 189h1M430 189h1M432 189h1M434 189h1M400 190h1M408 190h1M433 190h1M445 190h1M396 191h1M398 191h1M404 191h1M412 191h1M421 191h1M427 191h1M434 191h1M445 191h1M386 192h1M390 192h2M393 192h1M396 192h1M398 192h1M402 192h1M415 192h1M418 192h1M433 192h1M444 192h2M375 193h1M378 193h1M392 193h2M395 193h1M397 193h1M399 193h1M401 193h1M405 193h2M418 193h1M430 193h1M448 193h2M452 193h1M377 194h1M380 194h1M383 194h2M387 194h3M393 194h2M396 194h1M398 194h1M401 194h1M407 194h1M411 194h1M413 194h2M427 194h1M430 194h1M438 194h1M453 194h1M380 195h1M385 195h5M394 195h1M396 195h1M399 195h3M404 195h1M409 195h1M411 195h1M418 195h1M423 195h1M426 195h1M431 195h1M440 195h1M380 196h2M383 196h2M389 196h1M392 196h1M395 196h2M399 196h1M401 196h3M407 196h1M409 196h2M413 196h2M416 196h1M418 196h1M428 196h2M434 196h1M382 197h1M386 197h2M389 197h3M393 197h2M397 197h1M399 197h4M404 197h1M408 197h1M410 197h1M414 197h1M424 197h1M429 197h3M435 197h1M438 197h2M442 197h1M445 197h1M450 197h2M456 197h1M461 197h1M374 198h1M376 198h1M381 198h1M386 198h1M388 198h1M393 198h1M395 198h1M397 198h1M399 198h1M401 198h5M409 198h1M414 198h2M425 198h1M428 198h2M432 198h1M436 198h1M438 198h2M442 198h1M444 198h2M448 198h2M451 198h2M454 198h1M462 198h3M375 199h1M378 199h2M382 199h1M385 199h1M387 199h4M392 199h3M396 199h2M401 199h2M405 199h4M412 199h3M417 199h2M420 199h1M423 199h1M425 199h1M427 199h1M439 199h4M447 199h2M450 199h2M463 199h1M470 199h1M374 200h1M376 200h1M385 200h2M388 200h1M391 200h6M398 200h3M402 200h7M410 200h1M412 200h1M418 200h1M425 200h1M427 200h1M432 200h2M435 200h3M439 200h3M443 200h1M445 200h4M457 200h1M460 200h1M470 200h1M378 201h1M380 201h1M382 201h4M387 201h20M408 201h3M412 201h1M414 201h1M422 201h1M427 201h1M430 201h1M433 201h2M437 201h4M442 201h4M447 201h3M452 201h3M456 201h1M461 201h1M473 201h1M475 201h1M380 202h4M386 202h2M389 202h22M412 202h1M414 202h1M420 202h1M422 202h2M425 202h1M429 202h3M434 202h3M438 202h3M442 202h12M455 202h5M374 203h1M376 203h3M381 203h4M386 203h23M411 203h2M415 203h3M419 203h1M422 203h4M428 203h1M430 203h12M443 203h3M447 203h5M456 203h1M458 203h1M379 204h6M386 204h22M409 204h4M414 204h4M421 204h1M424 204h1M426 204h4M431 204h3M435 204h1M438 204h2M441 204h19M461 204h1M468 204h1M374 205h1M379 205h1M381 205h4M386 205h24M412 205h1M414 205h3M420 205h1M422 205h1M424 205h1M426 205h4M431 205h9M441 205h19M461 205h1M374 206h1M377 206h6M385 206h21M407 206h1M409 206h2M413 206h1M415 206h1M417 206h1M422 206h21M444 206h11M456 206h6M377 207h2M381 207h3M385 207h25M411 207h1M416 207h1M422 207h34M457 207h3M461 207h2M475 207h1M374 208h1M378 208h1M380 208h1M382 208h29M412 208h2M415 208h1M417 208h4M422 208h1M425 208h2M428 208h26M459 208h1M461 208h1M465 208h1M477 208h1M374 209h1M377 209h1M382 209h34M417 209h5M423 209h2M426 209h2M429 209h29M459 209h4M468 209h1M379 210h1M381 210h36M419 210h2M423 210h2M427 210h2M430 210h25M456 210h2M459 210h4M467 210h1M479 210h1M381 211h3M385 211h27M413 211h1M415 211h1M418 211h2M421 211h3M427 211h3M431 211h27M462 211h1M374 212h1M378 212h1M380 212h2M383 212h28M412 212h1M414 212h2M418 212h2M421 212h1M423 212h3M427 212h1M429 212h33M374 213h2M379 213h1M381 213h31M413 213h1M417 213h1M420 213h2M427 213h36M465 213h1M374 214h2M380 214h1M383 214h35M420 214h2M426 214h35M462 214h1M469 214h1M374 215h2M377 215h1M380 215h1M382 215h32M415 215h3M419 215h3M424 215h3M428 215h32M461 215h1M374 216h1M379 216h2M383 216h31M415 216h3M420 216h1M422 216h2M425 216h37M374 217h1M378 217h1M380 217h1M382 217h30M414 217h1M417 217h1M420 217h1M423 217h40M466 217h1M374 218h1M379 218h1M381 218h1M383 218h36M421 218h1M424 218h36M461 218h1M463 218h1M467 218h1M375 219h3M383 219h31M415 219h2M420 219h1M423 219h1M426 219h1M428 219h17M446 219h17M376 220h1M379 220h2M383 220h30M414 220h1M416 220h7M424 220h1M426 220h36M469 220h1M374 221h2M378 221h36M415 221h2M418 221h1M422 221h38M461 221h2M465 221h1M374 222h1M378 222h1M381 222h32M416 222h3M420 222h2M424 222h2M427 222h34M462 222h1M465 222h1M374 223h3M379 223h1M382 223h31M414 223h3M418 223h2M421 223h1M423 223h3M427 223h35M464 223h1M374 224h2M378 224h2M383 224h28M412 224h2M417 224h1M421 224h3M425 224h37M374 225h1M379 225h1M381 225h1M383 225h32M417 225h2M421 225h1M423 225h38M462 225h1M465 225h1M469 225h1M375 226h1M382 226h1M384 226h29M414 226h1M416 226h2M420 226h4M426 226h9M436 226h16M453 226h5M459 226h3M470 226h1M374 227h1M382 227h1M384 227h29M415 227h1M419 227h2M423 227h1M426 227h36M374 228h1M376 228h2M381 228h2M384 228h31M416 228h1M419 228h1M422 228h1M424 228h20M445 228h14M460 228h1M471 228h1M374 229h1M376 229h1M379 229h1M381 229h2M384 229h30M415 229h2M419 229h2M423 229h4M428 229h2M431 229h32M374 230h1M377 230h3M383 230h1M385 230h16M402 230h11M414 230h1M416 230h1M420 230h1M425 230h1M427 230h33M469 230h1M374 231h1M382 231h30M413 231h2M417 231h1M419 231h1M422 231h1M427 231h33M472 231h1M481 231h1M384 232h1M386 232h26M414 232h1M422 232h1M424 232h2M427 232h36M472 232h1M378 233h3M383 233h20M404 233h9M421 233h1M423 233h1M425 233h1M427 233h15M443 233h18M374 234h1M384 234h28M415 234h2M419 234h1M423 234h1M427 234h1M429 234h31M462 234h1M374 235h1M383 235h1M386 235h25M412 235h2M416 235h1M418 235h1M425 235h1M429 235h33M375 236h2M383 236h1M385 236h30M418 236h1M421 236h1M426 236h3M431 236h18M450 236h10M383 237h1M385 237h25M411 237h2M425 237h2M431 237h2M434 237h23M458 237h2M374 238h2M377 238h34M412 238h1M414 238h2M417 238h4M422 238h2M425 238h35M461 238h1M464 238h1" stroke="#4f4f4f" stroke-width="1" fill="none" filter="url(#sb)"/>
<rect x="373.5" y="158" width="113.5" height="81.5" fill="none" stroke="#000" stroke-width="1.4"/>
<path d="M419 158V239.5M373.5 212.2H487" stroke="#000" stroke-width="1.5" fill="none"/>
<path d="M382.0 239.5v2.9M373.5 233.4h-2.9M387.0 239.5v2.9M373.5 229.8h-2.9M390.6 239.5v2.9M373.5 227.2h-2.9M393.3 239.5v2.9M373.5 225.3h-2.9M395.6 239.5v2.9M373.5 223.6h-2.9M397.5 239.5v2.9M373.5 222.3h-2.9M399.1 239.5v2.9M373.5 221.1h-2.9M400.6 239.5v2.9M373.5 220.1h-2.9M410.4 239.5v2.9M373.5 213.0h-2.9M415.4 239.5v2.9M373.5 209.4h-2.9M419.0 239.5v2.9M373.5 206.9h-2.9M421.7 239.5v2.9M373.5 204.9h-2.9M424.0 239.5v2.9M373.5 203.3h-2.9M425.9 239.5v2.9M373.5 201.9h-2.9M427.5 239.5v2.9M373.5 200.7h-2.9M429.0 239.5v2.9M373.5 199.7h-2.9M438.8 239.5v2.9M373.5 192.6h-2.9M443.8 239.5v2.9M373.5 189.0h-2.9M447.3 239.5v2.9M373.5 186.5h-2.9M450.1 239.5v2.9M373.5 184.5h-2.9M452.3 239.5v2.9M373.5 182.9h-2.9M454.2 239.5v2.9M373.5 181.5h-2.9M455.9 239.5v2.9M373.5 180.3h-2.9M457.3 239.5v2.9M373.5 179.3h-2.9M467.2 239.5v2.9M373.5 172.2h-2.9M472.2 239.5v2.9M373.5 168.7h-2.9M475.7 239.5v2.9M373.5 166.1h-2.9M478.5 239.5v2.9M373.5 164.1h-2.9M480.7 239.5v2.9M373.5 162.5h-2.9M482.6 239.5v2.9M373.5 161.2h-2.9M484.3 239.5v2.9M373.5 160.0h-2.9M485.7 239.5v2.9M373.5 158.9h-2.9" stroke="#000" stroke-width="1.25" fill="none"/>
<path d="M373.5 239.5v4.6M373.5 239.5h-4.6M401.9 239.5v4.6M373.5 219.1h-4.6M430.2 239.5v4.6M373.5 198.8h-4.6M458.6 239.5v4.6M373.5 178.4h-4.6M487 239.5v4.6M373.5 158h-4.6" stroke="#000" stroke-width="1.7" fill="none"/>
<g font-size="8.6" font-weight="normal" fill="#111" stroke="#111" stroke-width="0.4">
<text x="367.1" y="256">10<tspan dy="-5.4">0</tspan></text>
<text x="395.4" y="256">10<tspan dy="-5.4">1</tspan></text>
<text x="423.7" y="256">10<tspan dy="-5.4">2</tspan></text>
<text x="452.0" y="256">10<tspan dy="-5.4">3</tspan></text>
<text x="480.2" y="256">10<tspan dy="-5.4">4</tspan></text>
</g>
<clipPath id="yc66"><rect x="0" y="157" width="520" height="200"/></clipPath>
<g font-size="8.4" font-weight="normal" fill="#333" stroke="#333" stroke-width="0.45" clip-path="url(#yc66)">
<text transform="translate(364 242.8) rotate(-90)">10<tspan dy="-5.4">0</tspan></text>
<text transform="translate(364 223.8) rotate(-90)">10<tspan dy="-5.4">1</tspan></text>
<text transform="translate(364 204.8) rotate(-90)">10<tspan dy="-5.4">2</tspan></text>
<text transform="translate(364 185.8) rotate(-90)">10<tspan dy="-5.4">3</tspan></text>
<text transform="translate(364 166.8) rotate(-90)">10<tspan dy="-5.4">4</tspan></text>
</g>
<text x="383.4" y="172.6" font-size="14" font-weight="bold" stroke="#000" stroke-width=".35" textLength="28.2" lengthAdjust="spacingAndGlyphs">11.6</text>
<text x="377.4" y="189.8" font-size="14" font-weight="bold" stroke="#000" stroke-width=".35" textLength="38.2" lengthAdjust="spacingAndGlyphs">(20%)</text>
<text x="456.8" y="172.6" font-size="14" font-weight="bold" stroke="#000" stroke-width=".35" textLength="21.0" lengthAdjust="spacingAndGlyphs">8.6</text>
<text x="447.4" y="189.8" font-size="14" font-weight="bold" stroke="#000" stroke-width=".35" textLength="39.8" lengthAdjust="spacingAndGlyphs">(21%)</text>
<text x="380.4" y="235.4" font-size="14" font-weight="bold" stroke="#000" stroke-width=".35" textLength="27.8" lengthAdjust="spacingAndGlyphs">47.1</text>
<text x="457.6" y="236.5" font-size="14" font-weight="bold" stroke="#000" stroke-width=".35" textLength="28.5" lengthAdjust="spacingAndGlyphs">32.6</text>
</g>
<path d="M51.3 360.8V525.2H226.8" stroke="#000" stroke-width="2" fill="none" stroke-linejoin="miter"/>
<path d="M46.3 525.2h5M46.3 497.9h5M46.3 470.7h5M46.3 443.4h5M46.3 416.1h5M46.3 388.9h5M46.3 361.6h5" stroke="#000" stroke-width="1.7" fill="none"/>
<text x="41.0" y="530.5" font-size="14.2" font-weight="bold" text-anchor="end" fill="#000" >0</text>
<text x="41.0" y="503.2" font-size="14.2" font-weight="bold" text-anchor="end" fill="#000" >15</text>
<text x="41.0" y="476.0" font-size="14.2" font-weight="bold" text-anchor="end" fill="#000" >30</text>
<text x="41.0" y="448.7" font-size="14.2" font-weight="bold" text-anchor="end" fill="#000" >45</text>
<text x="41.0" y="421.4" font-size="14.2" font-weight="bold" text-anchor="end" fill="#000" >60</text>
<text x="41.0" y="394.2" font-size="14.2" font-weight="bold" text-anchor="end" fill="#000" >75</text>
<text x="41.0" y="366.9" font-size="14.2" font-weight="bold" text-anchor="end" fill="#000" >90</text>
<path d="M96 423.0L187 465.4M96 459.9L187 423.4M96 477.8L187 372.1M96 479.8L187 399.9M96 480.8L187 403.0M96 482.3L187 424.3M96 483.4L187 431.2M96 497.7L187 503.4M96 503.0L187 385.9M96 502.7L187 461.2M96 508.7L187 477.8" stroke="#000" stroke-width="1.7" fill="none"/>
<path d="M95.4 483.7h12M186.6 430.8h12" stroke="#000" stroke-width="4.4" fill="none"/>
<text x="61.8" y="490.2" font-size="14.2" font-weight="bold" text-anchor="start" fill="#000" textLength="28.4" lengthAdjust="spacingAndGlyphs">23.2</text>
<text x="205.4" y="436.3" font-size="14.2" font-weight="bold" text-anchor="start" fill="#000" textLength="28.4" lengthAdjust="spacingAndGlyphs">51.4</text>
<text transform="translate(13.5 526) rotate(-90)" font-size="17.6" font-weight="bold" textLength="184" lengthAdjust="spacingAndGlyphs">PD-1+ CD8 T cells (%)</text>
<text x="84.2" y="339.3" font-size="16.6" font-weight="bold" textLength="127.5" lengthAdjust="spacingAndGlyphs"><tspan font-style="italic">P</tspan> = .004, n = 11</text>
<text x="72.8" y="553.2" font-size="17.5" font-weight="bold" text-anchor="start" fill="#000" textLength="60" lengthAdjust="spacingAndGlyphs">Normal</text>
<text x="174" y="553.2" font-size="17.5" font-weight="bold" text-anchor="start" fill="#000" textLength="54.6" lengthAdjust="spacingAndGlyphs">Tumor</text>
<path d="M342 365.0V525.2H517.8" stroke="#000" stroke-width="2" fill="none" stroke-linejoin="miter"/>
<path d="M337 525.2h5M337 493.3h5M337 461.5h5M337 429.6h5M337 397.7h5M337 365.8h5" stroke="#000" stroke-width="1.7" fill="none"/>
<text x="331.7" y="530.5" font-size="14.2" font-weight="bold" text-anchor="end" fill="#000" >0</text>
<text x="331.7" y="498.6" font-size="14.2" font-weight="bold" text-anchor="end" fill="#000" >15</text>
<text x="331.7" y="466.8" font-size="14.2" font-weight="bold" text-anchor="end" fill="#000" >30</text>
<text x="331.7" y="434.9" font-size="14.2" font-weight="bold" text-anchor="end" fill="#000" >45</text>
<text x="331.7" y="403.0" font-size="14.2" font-weight="bold" text-anchor="end" fill="#000" >60</text>
<text x="331.7" y="371.1" font-size="14.2" font-weight="bold" text-anchor="end" fill="#000" >75</text>
<path d="M385.2 428.5L471.4 433.6M385.2 459.3L471.4 384.1M385.2 465.9L471.4 422.6M385.2 472.3L471.4 446.6M385.2 482.3L471.4 397.7M385.2 485.3L471.4 405.1M385.2 488.7L471.4 408.1M385.2 491.8L471.4 430.0M385.2 495.0L471.4 447.9M385.2 494.2L471.4 467.2M385.2 499.5L471.4 474.2" stroke="#000" stroke-width="1.7" fill="none"/>
<path d="M384.59999999999997 478.5h12M471.0 428.7h12" stroke="#000" stroke-width="4.4" fill="none"/>
<text x="350.8" y="485.6" font-size="14.2" font-weight="bold" text-anchor="start" fill="#000" textLength="28.4" lengthAdjust="spacingAndGlyphs">21.9</text>
<text x="489.6" y="433.8" font-size="14.2" font-weight="bold" text-anchor="start" fill="#000" textLength="28.4" lengthAdjust="spacingAndGlyphs">45.3</text>
<text transform="translate(306.4 524.8) rotate(-90)" font-size="17.6" font-weight="bold" textLength="184" lengthAdjust="spacingAndGlyphs">PD-1+ CD4 T cells (%)</text>
<text x="363.4" y="337" font-size="16.6" font-weight="bold" textLength="137.3" lengthAdjust="spacingAndGlyphs"><tspan font-style="italic">P</tspan> = .0002, n = 11</text>
<text x="363.7" y="553.2" font-size="17.5" font-weight="bold" text-anchor="start" fill="#000" textLength="60" lengthAdjust="spacingAndGlyphs">Normal</text>
<text x="465" y="553.2" font-size="17.5" font-weight="bold" text-anchor="start" fill="#000" textLength="54.6" lengthAdjust="spacingAndGlyphs">Tumor</text>
</svg></body></html>
